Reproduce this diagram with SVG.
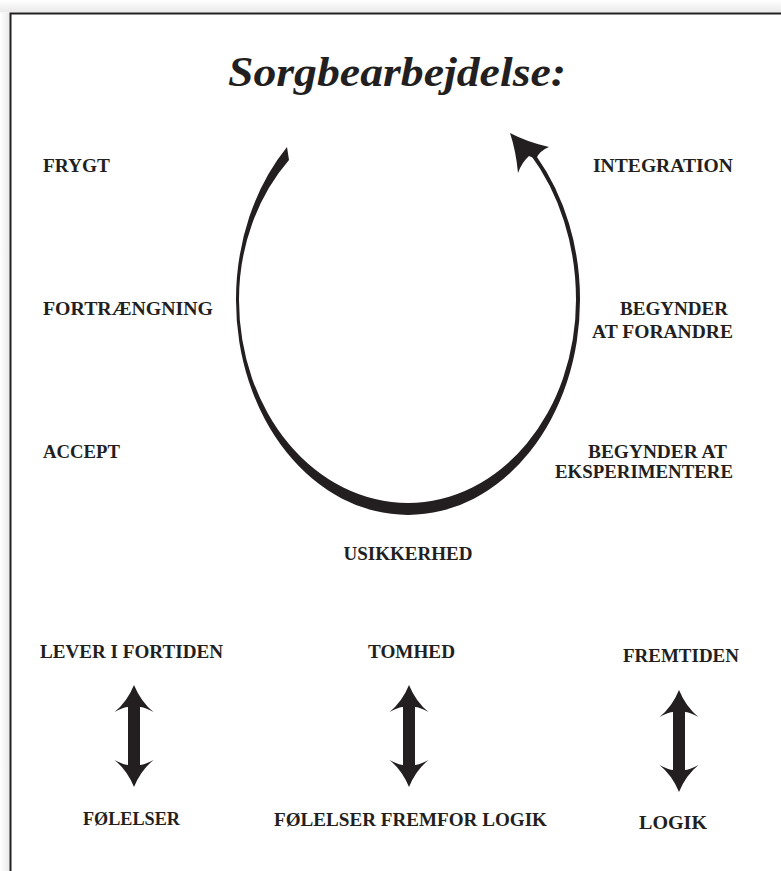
<svg xmlns="http://www.w3.org/2000/svg" width="781" height="871" viewBox="0 0 781 871">
<defs>
<style>
.lbl{font-family:"Liberation Serif","Times New Roman",serif;font-weight:bold;font-size:19px;fill:#231f20}
.ttl{font-family:"Liberation Serif","Times New Roman",serif;font-weight:bold;font-style:italic;font-size:42px;fill:#231f20}
.ink{fill:#231f20}
</style>
<linearGradient id="shT" x1="0" y1="0" x2="0" y2="1"><stop offset="0" stop-color="#ffffff"/><stop offset="1" stop-color="#e9e9e9"/></linearGradient>
<linearGradient id="shL" x1="0" y1="0" x2="1" y2="0"><stop offset="0" stop-color="#ffffff"/><stop offset="1" stop-color="#e9e9e9"/></linearGradient>
<path id="dbl" d="M0,0 Q7,17 19.5,27 Q10,22 6,22 L6,80 Q10,80 19.5,75 Q7,85 0,102 Q-7,85 -19.5,75 Q-10,80 -6,80 L-6,22 Q-10,22 -19.5,27 Q-7,17 0,0 Z"/>
</defs>
<rect width="781" height="871" fill="#ffffff"/>
<rect x="0" y="0" width="781" height="12.5" fill="url(#shT)"/>
<rect x="0" y="12.5" width="9.5" height="858.5" fill="url(#shL)"/>
<path d="M10.5,871 V13.5 H781" fill="none" stroke="#231f20" stroke-width="2"/>

<g id="title"><text class="ttl" x="397" y="86" text-anchor="middle" textLength="338" lengthAdjust="spacingAndGlyphs">Sorgbearbejdelse:</text></g>

<g id="connectors">
<path id="cycle" class="ink" d="M287,147 A172 215 0 0 0 236,300 A172 215 0 0 0 408,515 A172 215 0 0 0 580,300 A172 215 0 0 0 537,157 L530,154 A168 212 0 0 1 576,300 A168 203 0 0 1 408,503 A169 203 0 0 1 239,300 A169 197 0 0 1 289,160 Z"/>
<path id="cycle-head" class="ink" d="M510,133 Q527,142 549,147 Q539,151 536,159 L529,156 Q522,162 518,173 Q516,151 510,133 Z"/>
<use id="arrow-left" href="#dbl" class="ink" transform="translate(134,685)"/>
<use id="arrow-mid" href="#dbl" class="ink" transform="translate(409,685)"/>
<use id="arrow-right" href="#dbl" class="ink" transform="translate(679,690)"/>
</g>

<g id="n-frygt"><text class="lbl" x="43" y="172" textLength="67" lengthAdjust="spacingAndGlyphs">FRYGT</text></g>
<g id="n-fortraengning"><text class="lbl" x="43" y="315" textLength="170" lengthAdjust="spacingAndGlyphs">FORTRÆNGNING</text></g>
<g id="n-accept"><text class="lbl" x="43" y="458" textLength="77" lengthAdjust="spacingAndGlyphs">ACCEPT</text></g>
<g id="n-integration"><text class="lbl" x="593" y="172" textLength="140" lengthAdjust="spacingAndGlyphs">INTEGRATION</text></g>
<g id="n-forandre"><text class="lbl" x="620" y="315" textLength="108" lengthAdjust="spacingAndGlyphs">BEGYNDER</text><text class="lbl" x="592" y="338" textLength="141" lengthAdjust="spacingAndGlyphs">AT FORANDRE</text></g>
<g id="n-eksperimentere"><text class="lbl" x="588" y="458" textLength="139" lengthAdjust="spacingAndGlyphs">BEGYNDER AT</text><text class="lbl" x="555" y="478" textLength="178" lengthAdjust="spacingAndGlyphs">EKSPERIMENTERE</text></g>
<g id="n-usikkerhed"><text class="lbl" x="408" y="560" text-anchor="middle" textLength="129" lengthAdjust="spacingAndGlyphs">USIKKERHED</text></g>
<g id="n-fortiden"><text class="lbl" x="40" y="658" textLength="183" lengthAdjust="spacingAndGlyphs">LEVER I FORTIDEN</text></g>
<g id="n-tomhed"><text class="lbl" x="368" y="658" textLength="87" lengthAdjust="spacingAndGlyphs">TOMHED</text></g>
<g id="n-fremtiden"><text class="lbl" x="623" y="662" textLength="116" lengthAdjust="spacingAndGlyphs">FREMTIDEN</text></g>
<g id="n-foelelser"><text class="lbl" x="83" y="825" textLength="97" lengthAdjust="spacingAndGlyphs">FØLELSER</text></g>
<g id="n-fremfor"><text class="lbl" x="274" y="826" textLength="273" lengthAdjust="spacingAndGlyphs">FØLELSER FREMFOR LOGIK</text></g>
<g id="n-logik"><text class="lbl" x="639" y="829" textLength="68" lengthAdjust="spacingAndGlyphs">LOGIK</text></g>
</svg>
